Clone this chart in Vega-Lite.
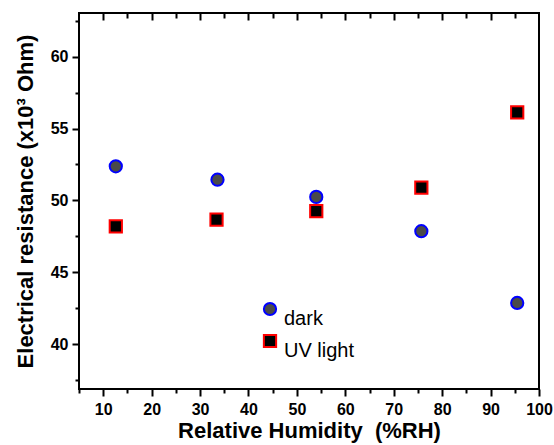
{
  "$schema": "https://vega.github.io/schema/vega-lite/v6.json",
  "width": 460,
  "height": 376,
  "autosize": {"type": "none"},
  "padding": {"left": 79, "top": 13, "right": 15, "bottom": 56},
  "background": "white",
  "config": {
    "font": "Liberation Sans",
    "view": {"stroke": "black", "strokeWidth": 2},
    "axis": {
      "domain": false,
      "grid": false,
      "tickColor": "black",
      "tickWidth": 2,
      "labelColor": "black",
      "labelFont": "Liberation Sans",
      "labelFontWeight": "bold",
      "labelFontSize": 16,
      "titleColor": "black",
      "titleFont": "Liberation Sans",
      "titleFontWeight": "bold",
      "titleFontSize": 22
    }
  },
  "data": {
    "values": [
      {"rh": 12.6, "r": 52.37, "series": "dark"},
      {"rh": 33.6, "r": 51.44, "series": "dark"},
      {"rh": 54.0, "r": 50.24, "series": "dark"},
      {"rh": 75.7, "r": 47.85, "series": "dark"},
      {"rh": 95.5, "r": 42.86, "series": "dark"},
      {"rh": 12.6, "r": 48.19, "series": "UV light"},
      {"rh": 33.4, "r": 48.66, "series": "UV light"},
      {"rh": 54.0, "r": 49.25, "series": "UV light"},
      {"rh": 75.7, "r": 50.88, "series": "UV light"},
      {"rh": 95.5, "r": 56.12, "series": "UV light"}
    ]
  },
  "layer": [
    {
      "mark": {"type": "point", "filled": true, "size": 150, "strokeWidth": 2, "opacity": 1},
      "encoding": {
        "x": {
          "field": "rh", "type": "quantitative",
          "scale": {"domain": [5, 100], "nice": false, "zero": false},
          "axis": {
            "orient": "bottom",
            "title": "Relative Humidity \u00a0(%RH)",
            "values": [5, 10, 15, 20, 25, 30, 35, 40, 45, 50, 55, 60, 65, 70, 75, 80, 85, 90, 95, 100],
            "labelExpr": "datum.value % 10 == 0 ? datum.label : ''",
            "tickSize": {"condition": {"test": "datum.value % 10 == 0", "value": 7}, "value": 4},
            "labelPadding": 5,
            "labelFlush": false,
            "labelOverlap": false,
            "titlePadding": 3
          }
        },
        "y": {
          "field": "r", "type": "quantitative",
          "scale": {"domain": [36.87, 63.04], "nice": false, "zero": false},
          "axis": {
            "orient": "left",
            "title": "Electrical resistance (x10³ Ohm)",
            "titleFontSize": 22,
            "values": [37.5, 40, 42.5, 45, 47.5, 50, 52.5, 55, 57.5, 60, 62.5],
            "labelExpr": "datum.value % 5 == 0 ? datum.label : ''",
            "tickSize": {"condition": {"test": "datum.value % 5 == 0", "value": 7}, "value": 4},
            "labelPadding": 4,
            "labelOverlap": false,
            "titlePadding": 13
          }
        },
        "shape": {
          "field": "series", "type": "nominal",
          "scale": {"domain": ["dark", "UV light"], "range": ["circle", "square"]},
          "legend": {
            "title": null, "orient": "none", "legendX": 181, "legendY": 286,
            "padding": 0, "labelFontSize": 20, "labelFont": "Liberation Sans", "labelColor": "black",
            "symbolSize": 150, "symbolStrokeWidth": 2, "rowPadding": 1, "labelOffset": 4,
            "labelBaseline": "top"
          }
        },
        "fill": {
          "field": "series", "type": "nominal",
          "scale": {"domain": ["dark", "UV light"], "range": ["#4a4a4a", "#000000"]},
          "legend": {
            "title": null, "orient": "none", "legendX": 181, "legendY": 286,
            "padding": 0, "labelFontSize": 20, "labelFont": "Liberation Sans", "labelColor": "black",
            "symbolSize": 150, "symbolStrokeWidth": 2, "rowPadding": 1, "labelOffset": 4,
            "labelBaseline": "top"
          }
        },
        "stroke": {
          "field": "series", "type": "nominal",
          "scale": {"domain": ["dark", "UV light"], "range": ["#0000ff", "#ff0000"]},
          "legend": {
            "title": null, "orient": "none", "legendX": 181, "legendY": 286,
            "padding": 0, "labelFontSize": 20, "labelFont": "Liberation Sans", "labelColor": "black",
            "symbolSize": 150, "symbolStrokeWidth": 2, "rowPadding": 1, "labelOffset": 4,
            "labelBaseline": "top"
          }
        }
      }
    },
    {
      "mark": {"type": "point", "opacity": 0},
      "encoding": {
        "x": {
          "field": "rh", "type": "quantitative",
          "axis": {
            "orient": "top",
            "title": null,
            "labels": false,
            "values": [10, 15, 20, 25, 30, 35, 40, 45, 50, 55, 60, 65, 70, 75, 80, 85, 90, 95],
            "tickSize": {"condition": {"test": "datum.value % 10 == 0", "value": -7}, "value": -5}
          }
        }
      }
    }
  ],
  "resolve": {"axis": {"x": "independent"}}
}
